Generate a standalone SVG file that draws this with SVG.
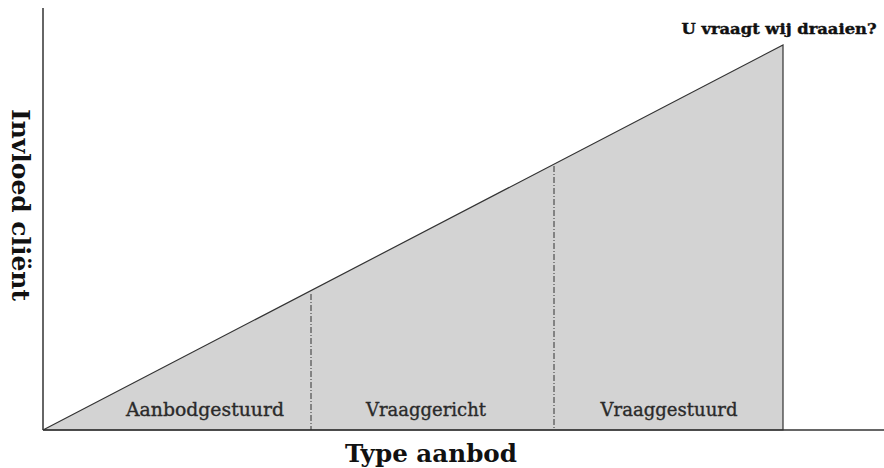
<svg xmlns="http://www.w3.org/2000/svg" width="884" height="468" viewBox="0 0 884 468">
<style>
.ax{stroke:#333;stroke-width:1.5;fill:none}
.div{stroke:#333;stroke-width:1;stroke-dasharray:6,2,1,2;fill:none}
.lbl{font-family:"DejaVu Serif","Liberation Serif",serif;font-size:18px;fill:#2a2a2a;stroke:#2a2a2a;stroke-width:0.35;text-anchor:middle}
.ttl{font-family:"DejaVu Serif","Liberation Serif",serif;font-weight:bold;fill:#111;text-anchor:middle}
</style>
<rect width="884" height="468" fill="#fff"/>
<g id="area">
<polygon points="43,430 783,45 783,430" fill="#d3d3d3" stroke="#333" stroke-width="1.2"/>
</g>
<g id="connectors">
<line class="ax" x1="43" y1="8" x2="43" y2="430"/>
<line class="ax" x1="43" y1="430" x2="884" y2="430"/>
<line class="div" x1="311" y1="294" x2="311" y2="430"/>
<line class="div" x1="554" y1="166" x2="554" y2="430"/>
</g>
<g id="aanbodgestuurd"><text class="lbl" x="205" y="416" textLength="158" lengthAdjust="spacingAndGlyphs">Aanbodgestuurd</text></g>
<g id="vraaggericht"><text class="lbl" x="426" y="416" textLength="120" lengthAdjust="spacingAndGlyphs">Vraaggericht</text></g>
<g id="vraaggestuurd"><text class="lbl" x="669" y="416" textLength="137" lengthAdjust="spacingAndGlyphs">Vraaggestuurd</text></g>
<g id="x-title"><text class="ttl" x="431" y="462" font-size="25" textLength="172" lengthAdjust="spacingAndGlyphs">Type aanbod</text></g>
<g id="y-title"><text class="ttl" transform="translate(12,205) rotate(90)" x="0" y="0" font-size="25" textLength="192" lengthAdjust="spacingAndGlyphs">Invloed cliënt</text></g>
<g id="top-label"><text class="ttl" x="779" y="34" font-size="14" stroke="#111" stroke-width="0.4" textLength="195" lengthAdjust="spacingAndGlyphs">U vraagt wij draaien?</text></g>
</svg>
